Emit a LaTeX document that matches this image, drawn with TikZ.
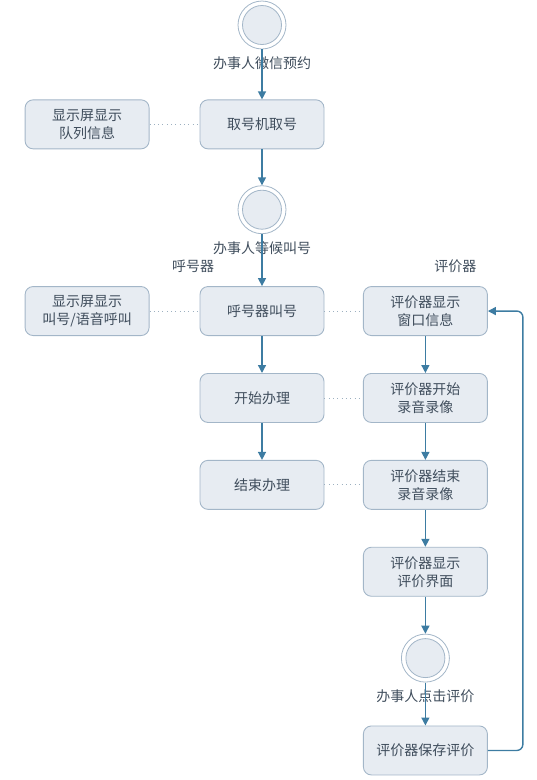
\documentclass[tikz,border=0pt]{standalone}
\usepackage{fontspec}
\setmainfont{Noto Sans CJK SC}
\usepackage{xcolor}
\usetikzlibrary{arrows.meta, positioning}

\definecolor{flowblue}{HTML}{3D7CA2}
\definecolor{boxedge}{HTML}{A3B6C8}
\definecolor{boxfill}{HTML}{E7ECF2}
\definecolor{inktext}{HTML}{3F4D5C}
\definecolor{dotgray}{HTML}{9DB0C0}

\tikzset{
  act/.style={rectangle, rounded corners=8pt, draw=boxedge, fill=boxfill,
    line width=0.9pt, minimum width=124pt, minimum height=49pt,
    align=center, text=inktext, inner sep=2pt},
  state/.style={circle, draw=boxedge, fill=white, line width=0.8pt,
    minimum size=48pt, inner sep=0pt,
    path picture={\draw[boxedge, fill=boxfill, line width=0.8pt]
      (path picture bounding box.center) circle (19.5pt);}},
  lbl/.style={text=inktext, inner sep=0pt},
  flow/.style={draw=flowblue, line width=1.4pt,
    -{Triangle[width=8pt,length=8pt]}},
  link/.style={draw=dotgray, line width=0.9pt,
    dash pattern=on 0.9pt off 3.4pt}
}

\begin{document}
\begin{tikzpicture}[x=1pt, y=-1pt, font=\fontsize{14}{18}\selectfont]
\useasboundingbox (0,0) rectangle (537,780);

\node[state] (start) at (262,25) {};
\node[lbl, below=7pt of start] (startlbl) {办事人微信预约};
\node[act, below=50pt of start] (take) {取号机取号};
\node[act, left=50pt of take] (queue) {显示屏显示\\队列信息};
\node[state, below=36pt of take] (wait) {};
\node[lbl, below=7pt of wait] (waitlbl) {办事人等候叫号};

\node[act, below=52pt of wait] (call) {呼号器叫号};
\node[act, left=50pt of call] (announce) {显示屏显示\\叫号/语音呼叫};
\node[act, right=38.5pt of call] (evshow) {评价器显示\\窗口信息};
\node[lbl, above=13pt of call.north, xshift=-69pt] (caller) {呼号器};
\node[lbl, above=13pt of evshow.north, xshift=30pt] (rater) {评价器};

\node[act, below=37pt of call] (begin) {开始办理};
\node[act, right=38.5pt of begin] (evrec) {评价器开始\\录音录像};
\node[act, below=37pt of begin] (finish) {结束办理};
\node[act, right=38.5pt of finish] (evstop) {评价器结束\\录音录像};
\node[act, below=37pt of evstop] (evface) {评价器显示\\评价界面};
\node[state, below=37pt of evface] (click) {};
\node[lbl, below=7pt of click] (clicklbl) {办事人点击评价};
\node[act, below=43pt of click] (save) {评价器保存评价};

% main flow
\draw[flow] (start) -- (take);
\draw[flow] (take) -- (wait);
\draw[flow] (wait) -- (call);
\draw[flow] (call) -- (begin);
\draw[flow] (begin) -- (finish);
\draw[flow] (evshow) -- (evrec);
\draw[flow] (evrec) -- (evstop);
\draw[flow] (evstop) -- (evface);
\draw[flow] (evface) -- (click);
\draw[flow] (click) -- (save);
\draw[flow, rounded corners=6pt] (save.east) -- ++(35,0) |- (evshow.east);

% dotted links
\draw[link] (queue) -- (take);
\draw[link] (announce) -- (call);
\draw[link] (call) -- (evshow);
\draw[link] (begin) -- (evrec);
\draw[link] (finish) -- (evstop);
\end{tikzpicture}
\end{document}
